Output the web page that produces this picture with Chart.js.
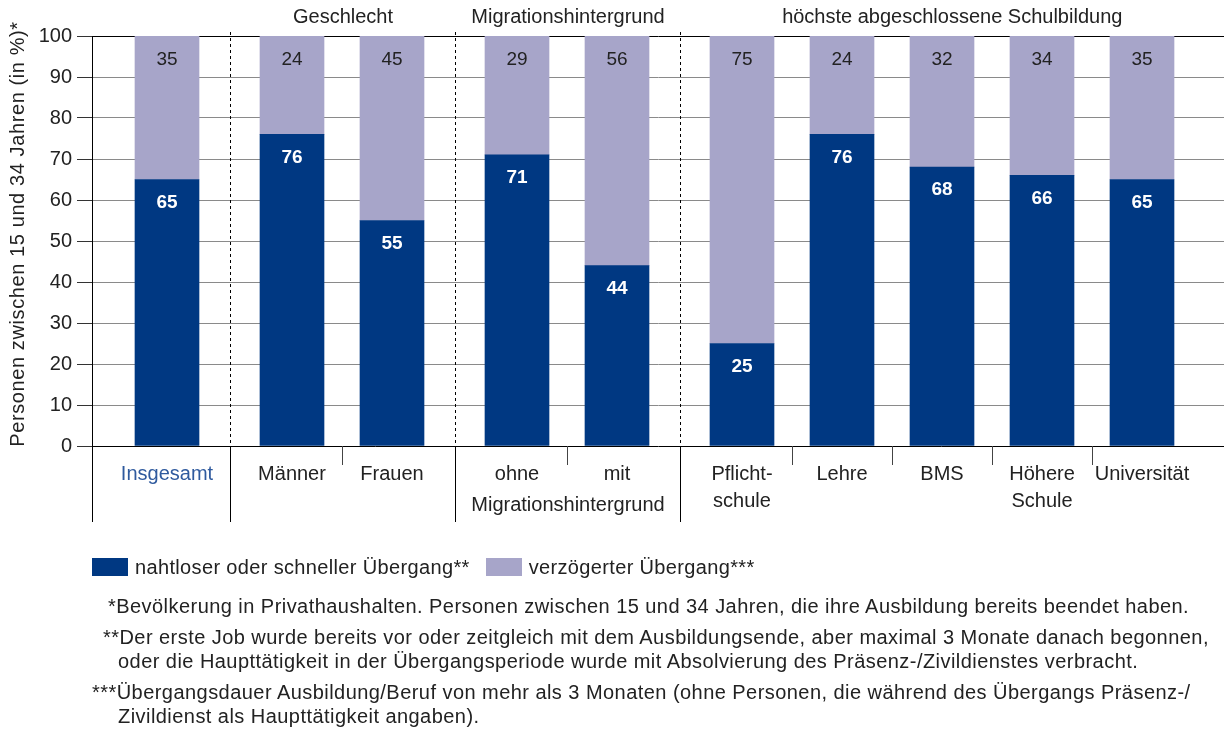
<!DOCTYPE html>
<html lang="de">
<head>
<meta charset="utf-8">
<title>Übergang Ausbildung – Beruf</title>
<script src="https://cdn.jsdelivr.net/npm/chart.js@4/dist/chart.umd.min.js"></script>
<style>
  html, body { margin: 0; padding: 0; background: #fff; }
  body { width: 1224px; height: 735px; position: relative; overflow: hidden;
         font-family: "Liberation Sans", Arial, sans-serif; color: #222; }
  #wrap { position: absolute; left: 0; top: 0; width: 1224px; height: 735px; }
  .legend { position: absolute; top: 557px; left: 92px; font-size: 20px; letter-spacing: 0.35px;
            line-height: 20px; display: flex; align-items: center; }
  .legend .item { display: flex; align-items: center; margin-right: 16px; }
  .legend .box { width: 36px; height: 18px; margin-right: 7px; }
  .note { position: absolute; font-size: 20px; letter-spacing: 0.45px; line-height: 20px; white-space: nowrap; }
</style>
</head>
<body>
<div id="wrap"><canvas id="chart" width="1224" height="735"></canvas></div>
<div class="legend" id="legend"></div>
<div id="notes"></div>

<script>
// Categories, their group and the group titles
const categories = [
  ["Insgesamt"],
  ["Männer"],
  ["Frauen"],
  ["ohne"],
  ["mit"],
  ["Pflicht-", "schule"],
  ["Lehre"],
  ["BMS"],
  ["Höhere", "Schule"],
  ["Universität"],
];
const groupOf = [0, 1, 1, 2, 2, 3, 3, 3, 3, 3];
const groupTitles = ["", "Geschlecht", "Migrationshintergrund", "höchste abgeschlossene Schulbildung"];
const groupSubLabels = ["", "", "Migrationshintergrund", ""];

// Series values (in %)
const nahtlos = [65, 76, 55, 71, 44, 25, 76, 68, 66, 65];
const verzoegert = [35, 24, 45, 29, 56, 75, 24, 32, 34, 35];
const seriesNames = ["nahtloser oder schneller Übergang**", "verzögerter Übergang***"];

// y axis ticks
const yTicks = [0, 10, 20, 30, 40, 50, 60, 70, 80, 90, 100];
const yTitle = "Personen zwischen 15 und 34 Jahren (in %)*";

const footnotes = [
  "*Bevölkerung in Privathaushalten. Personen zwischen 15 und 34 Jahren, die ihre Ausbildung bereits beendet haben.",
  "**Der erste Job wurde bereits vor oder zeitgleich mit dem Ausbildungsende, aber maximal 3 Monate danach begonnen,",
  "oder die Haupttätigkeit in der Übergangsperiode wurde mit Absolvierung des Präsenz-/Zivildienstes verbracht.",
  "***Übergangsdauer Ausbildung/Beruf von mehr als 3 Monaten (ohne Personen, die während des Übergangs Präsenz-/",
  "Zivildienst als Haupttätigkeit angaben).",
];

const DARK = "#003882";
const LIGHT = "#a7a5c9";
const TEXT = "#222";
const FONT = "'Liberation Sans', Arial, sans-serif";
const GROUP_GAP = 0.25; // extra room between groups, in category units

// x position of each bar on the linear axis
const xPos = categories.map((c, i) => i + groupOf[i] * GROUP_GAP);

// Draw separators, category labels, group titles and value labels
const decorations = {
  id: "decorations",
  afterDatasetsDraw(chart) {
    const ctx = chart.ctx;
    const area = chart.chartArea;
    const xs = chart.scales.x;
    const ys = chart.scales.y;
    const px = xPos.map((v) => xs.getPixelForValue(v));
    const bottomEnd = area.bottom + 76;
    const groupEdges = [area.left];

    ctx.save();
    ctx.strokeStyle = "#000";
    ctx.lineWidth = 1;

    // axis line continues below the plot
    ctx.beginPath();
    ctx.moveTo(area.left + 0.5, area.bottom);
    ctx.lineTo(area.left + 0.5, bottomEnd);
    ctx.stroke();

    for (let i = 1; i < px.length; i++) {
      const mid = Math.round((px[i - 1] + px[i]) / 2) + 0.5;
      if (groupOf[i] !== groupOf[i - 1]) {
        groupEdges.push(mid);
        ctx.setLineDash([3, 3]);
        ctx.beginPath();
        ctx.moveTo(mid, area.top - 4);
        ctx.lineTo(mid, area.bottom);
        ctx.stroke();
        ctx.setLineDash([]);
        ctx.beginPath();
        ctx.moveTo(mid, area.bottom);
        ctx.lineTo(mid, bottomEnd);
        ctx.stroke();
      } else {
        ctx.strokeStyle = "#444";
        ctx.beginPath();
        ctx.moveTo(mid, area.bottom);
        ctx.lineTo(mid, area.bottom + 19);
        ctx.stroke();
        ctx.strokeStyle = "#000";
      }
    }
    groupEdges.push(area.right);

    // category labels
    ctx.textAlign = "center";
    ctx.textBaseline = "middle";
    ctx.font = "20px " + FONT;
    categories.forEach((lines, i) => {
      ctx.fillStyle = i === 0 ? "#2f5a9e" : TEXT;
      lines.forEach((t, k) => ctx.fillText(t, px[i], area.bottom + 28 + k * 27));
    });

    // group titles and sub labels
    groupTitles.forEach((t, g) => {
      const cx = (groupEdges[g] + groupEdges[g + 1]) / 2;
      ctx.fillStyle = TEXT;
      if (t) ctx.fillText(t, cx, area.top - 19);
      if (groupSubLabels[g]) ctx.fillText(groupSubLabels[g], cx, area.bottom + 59);
    });

    // value labels
    nahtlos.forEach((v, i) => {
      ctx.fillStyle = "#fff";
      ctx.font = "bold 19px " + FONT;
      ctx.fillText(String(v), px[i], ys.getPixelForValue(v) + 23);
      ctx.fillStyle = TEXT;
      ctx.font = "19px " + FONT;
      ctx.fillText(String(verzoegert[i]), px[i], ys.getPixelForValue(v + verzoegert[i]) + 24);
    });

    // rotated y axis title
    ctx.translate(18, 234);
    ctx.rotate(-Math.PI / 2);
    ctx.font = "20px " + FONT;
    ctx.letterSpacing = "0.6px";
    ctx.fillStyle = TEXT;
    ctx.fillText(yTitle, 0, 0);
    ctx.restore();
  },
};

const chart = new Chart(document.getElementById("chart"), {
  type: "bar",
  data: {
    datasets: [
      {
        label: seriesNames[0],
        data: nahtlos.map((v, i) => ({ x: xPos[i], y: v })),
        backgroundColor: DARK,
        barThickness: 64,
      },
      {
        label: seriesNames[1],
        data: verzoegert.map((v, i) => ({ x: xPos[i], y: v })),
        backgroundColor: LIGHT,
        barThickness: 64,
      },
    ],
  },
  options: {
    responsive: false,
    animation: false,
    events: [],
    layout: { padding: { left: 0, top: 36, right: 0, bottom: 289 } },
    plugins: { legend: { display: false }, tooltip: { enabled: false } },
    scales: {
      x: {
        type: "linear",
        stacked: true,
        display: false,
        offset: false,
        min: -0.75,
        max: xPos[xPos.length - 1] + 0.82,
      },
      y: {
        stacked: true,
        min: 0,
        max: 100,
        afterBuildTicks(scale) {
          scale.ticks = yTicks.map((v) => ({ value: v }));
        },
        afterFit(scale) {
          scale.width = 92;
        },
        border: { display: true, color: "#000", width: 1 },
        grid: {
          color: (c) => (c.tick && (c.tick.value === 0 || c.tick.value === 100) ? "#000" : "#8a8a8a"),
          tickColor: "#333",
          tickLength: 15,
          lineWidth: 1,
        },
        ticks: { color: TEXT, padding: 5, font: { family: FONT, size: 20 } },
        title: { display: false },
      },
    },
  },
  plugins: [decorations],
});

// legend from the datasets
const legend = document.getElementById("legend");
chart.data.datasets.forEach((ds) => {
  const item = document.createElement("div");
  item.className = "item";
  item.innerHTML = '<span class="box" style="background:' + ds.backgroundColor + '"></span>' + ds.label;
  legend.appendChild(item);
});

// footnotes
const notePos = [[108, 596], [103, 627], [118, 651], [92, 682], [118, 706]];
const notes = document.getElementById("notes");
footnotes.forEach((t, i) => {
  const d = document.createElement("div");
  d.className = "note";
  d.style.left = notePos[i][0] + "px";
  d.style.top = notePos[i][1] + "px";
  d.textContent = t;
  notes.appendChild(d);
});
</script>
</body>
</html>
